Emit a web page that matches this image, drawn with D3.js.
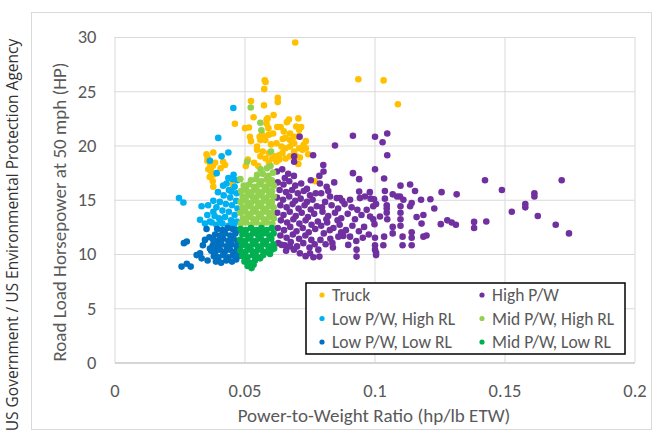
<!DOCTYPE html>
<html>
<head>
<meta charset="utf-8">
<script src="https://cdn.jsdelivr.net/npm/d3@7"></script>
<style>
  html, body { margin: 0; padding: 0; background: #fff; }
  svg { display: block; }
</style>
</head>
<body>
<div id="chart"></div>
<script>
// series as [power-to-weight ratio, road load hp]
const truck = [
  [0.0695, 29.5], [0.0938, 26.1], [0.1035, 26.0], [0.109, 23.8], [0.0771, 16.7], [0.0455, 16.3],
  [0.0354, 19.2], [0.0358, 18.9], [0.038, 19.35], [0.0357, 18.6], [0.0368, 18.3], [0.0378, 18.1],
  [0.0387, 18.4], [0.0418, 18.5], [0.0425, 18.2], [0.0361, 17.8], [0.0372, 17.6], [0.038, 17.3],
  [0.0378, 16.7], [0.038, 16.2], [0.0366, 17.1], [0.0408, 17.9],
  [0.0581, 25.85], [0.0576, 25.2], [0.0525, 24.1], [0.0575, 23.7], [0.0628, 24.4], [0.0628, 24.0],
  [0.0463, 22.0], [0.0502, 21.6], [0.0517, 21.66], [0.0585, 22.4], [0.0585, 22.0], [0.0592, 21.6],
  [0.0521, 20.8], [0.0525, 20.4], [0.0572, 20.9], [0.058, 20.5], [0.0578, 26.0], [0.0589, 22.5],
  [0.0626, 21.7], [0.0639, 21.7], [0.0663, 22.15], [0.0707, 22.5], [0.0699, 21.75], [0.071, 21.45],
  [0.0567, 21.0], [0.0594, 21.0], [0.0623, 20.2], [0.0642, 19.9], [0.0658, 19.75], [0.0675, 19.9],
  [0.0691, 20.2], [0.071, 19.75], [0.0727, 20.05], [0.0736, 19.75], [0.0548, 19.6], [0.057, 19.45],
  [0.0594, 19.3], [0.0618, 19.0], [0.0634, 18.7], [0.0623, 18.5], [0.0691, 19.45], [0.0699, 19.0],
  [0.0707, 18.3], [0.0537, 18.4], [0.0553, 18.1], [0.0561, 19.0], [0.0581, 18.8], [0.0594, 18.4],
  [0.0607, 18.8], [0.0513, 18.7], [0.0505, 18.1], [0.0671, 22.4], [0.0675, 21.1], [0.0658, 20.7],
  [0.061, 21.1], [0.0561, 20.5], [0.0548, 19.9], [0.0558, 20.8], [0.0691, 20.8], [0.0675, 20.5],
  [0.0718, 21.7], [0.071, 20.9], [0.0736, 20.4], [0.0723, 19.6], [0.0633, 19.1], [0.0646, 19.3],
  [0.0675, 19.0], [0.0658, 18.8], [0.0456, 16.7], [0.0593, 16.6], [0.0535, 22.6], [0.0612, 22.8],
  [0.0651, 21.3], [0.0684, 20.2], [0.0647, 20.6], [0.0602, 20.1], [0.0713, 18.9], [0.0745, 19.2]
]

const highPW = [
  [0.1002, 20.8], [0.1031, 20.3], [0.1049, 21.1], [0.1049, 19.1], [0.1002, 17.8], [0.1037, 16.96],
  [0.110, 16.3], [0.1137, 16.4], [0.1156, 15.8], [0.1258, 15.7], [0.1316, 15.5], [0.1425, 16.8],
  [0.149, 15.9], [0.1615, 15.6], [0.1615, 15.3], [0.172, 16.8], [0.158, 14.6], [0.158, 14.3],
  [0.1528, 13.9], [0.1628, 13.5], [0.1697, 12.7], [0.1748, 11.9], [0.143, 13.0], [0.1383, 12.96],
  [0.1383, 12.4], [0.1313, 12.7], [0.1297, 12.9], [0.128, 13.1], [0.1255, 12.75], [0.123, 14.2],
  [0.1215, 15.05], [0.1179, 15.0], [0.1188, 13.6], [0.1181, 12.8], [0.1162, 13.4], [0.1188, 11.6],
  [0.120, 11.7], [0.1143, 14.7], [0.1137, 14.4], [0.1143, 12.0], [0.1143, 11.5], [0.1143, 10.8],
  [0.1108, 10.8], [0.1108, 11.6], [0.110, 14.4], [0.110, 13.8], [0.110, 13.2], [0.110, 12.6],
  [0.1098, 15.3], [0.107, 15.5], [0.107, 12.5], [0.107, 11.9], [0.1037, 11.6], [0.1034, 10.8],
  [0.1002, 11.5], [0.1002, 10.8], [0.1006, 10.1], [0.1006, 9.9], [0.104, 15.8], [0.104, 15.1],
  [0.1047, 14.5], [0.1047, 13.8], [0.1049, 13.2], [0.1021, 13.45], [0.0995, 14.4], [0.0985, 15.1],
  [0.0995, 13.2], [0.100, 12.75], [0.1087, 15.3], [0.1111, 15.0], [0.1006, 14.6], [0.1047, 14.2],
  // middle band
  [0.0803, 18.2], [0.0804, 17.6], [0.0764, 19.1], [0.0712, 20.8], [0.0691, 19.0], [0.0691, 18.5],
  [0.0755, 16.8], [0.0848, 20.0], [0.0917, 20.9], [0.0917, 17.45], [0.0941, 16.9], [0.079, 16.5],
  [0.0816, 16.2], [0.0829, 15.3], [0.0855, 15.15], [0.0867, 15.15], [0.0906, 15.0], [0.0944, 15.15],
  [0.0963, 15.3], [0.0998, 15.05], [0.0941, 15.75], [0.0982, 15.7], [0.0795, 15.6], [0.081, 14.8],
  [0.0835, 14.5], [0.086, 14.2], [0.0885, 14.6], [0.0912, 14.3], [0.0934, 14.07], [0.097, 14.07],
  [0.0983, 13.45], [0.08, 13.9], [0.0822, 13.5], [0.0848, 13.8], [0.0872, 13.3], [0.0897, 13.7],
  [0.0925, 13.2], [0.095, 13.6], [0.0795, 12.6], [0.0818, 12.9], [0.0842, 12.4], [0.0866, 12.7],
  [0.089, 12.2], [0.0915, 12.6], [0.094, 12.1], [0.096, 12.5], [0.0805, 11.9], [0.083, 11.4],
  [0.0861, 11.6], [0.088, 11.67], [0.0906, 11.6], [0.093, 11.2], [0.0955, 11.5], [0.0978, 11.8],
  [0.0784, 10.4], [0.0788, 9.76], [0.0812, 10.9], [0.084, 10.6], [0.0899, 10.84], [0.0931, 10.4],
  [0.0931, 9.76], [0.1002, 10.4], [0.077, 10.9], [0.0765, 9.7],
  [0.0822, 15.8], [0.0845, 16.6], [0.0876, 14.9], [0.0858, 13.1], [0.0828, 12.2], [0.0872, 12.0],
  [0.0815, 13.2], [0.0838, 11.0], [0.0792, 11.3], [0.0798, 14.3], [0.0788, 17.2], [0.0774, 15.6],
  // dense block next to the mid group
  [0.0625, 17.6], [0.0645, 17.8], [0.0668, 17.4], [0.069, 17.2], [0.0655, 17.0],
  [0.0628, 16.6], [0.065, 16.4], [0.0672, 16.7], [0.0695, 16.3], [0.0718, 16.5], [0.074, 16.0],
  [0.0635, 15.9], [0.066, 15.7], [0.0683, 15.9], [0.0705, 15.6], [0.0728, 15.8], [0.0752, 15.4],
  [0.0625, 15.2], [0.0648, 15.0], [0.0672, 15.3], [0.0695, 14.9], [0.0716, 15.1], [0.074, 14.8], [0.0762, 15.0],
  [0.0638, 14.5], [0.0662, 14.3], [0.0685, 14.6], [0.0708, 14.2], [0.0731, 14.5], [0.0755, 14.1], [0.0778, 14.4],
  [0.0626, 13.8], [0.065, 13.6], [0.0674, 13.9], [0.0697, 13.5], [0.072, 13.8], [0.0744, 13.4], [0.0768, 13.7],
  [0.064, 13.1], [0.0664, 12.9], [0.0688, 13.2], [0.0711, 12.8], [0.0735, 13.1], [0.0758, 12.7], [0.0782, 13.0],
  [0.0628, 12.4], [0.0652, 12.2], [0.0676, 12.5], [0.07, 12.1], [0.0724, 12.4], [0.0747, 12.0], [0.0772, 12.3],
  [0.0638, 11.7], [0.0662, 11.5], [0.0686, 11.8], [0.071, 11.4], [0.0734, 11.7], [0.0757, 11.3],
  [0.063, 11.0], [0.0655, 10.8], [0.0678, 11.1], [0.0702, 10.7], [0.0726, 11.0], [0.075, 10.6],
  [0.0643, 10.84], [0.0675, 10.7], [0.066, 10.3], [0.0713, 10.07], [0.0752, 10.07], [0.069, 10.4], [0.0735, 9.8]
]

const lowPWHighRL = [
  [0.0457, 23.45], [0.0399, 20.7], [0.0438, 19.35], [0.0412, 19.0], [0.0367, 18.6], [0.0393, 17.45],
  [0.0438, 17.0], [0.0455, 16.9], [0.0431, 16.5], [0.045, 15.75], [0.0248, 15.15], [0.0265, 14.75],
  [0.0335, 14.4], [0.036, 14.5], [0.038, 13.9], [0.0329, 13.15], [0.0348, 12.8], [0.0367, 13.0],
  [0.0406, 13.15], [0.0462, 16.2], [0.047, 15.6], [0.044, 15.9], [0.042, 15.4], [0.0445, 15.2],
  [0.0468, 14.9], [0.0405, 14.8], [0.0428, 14.6], [0.0452, 14.5], [0.0473, 14.2], [0.0392, 14.3],
  [0.0415, 14.0], [0.044, 13.9], [0.0462, 13.6], [0.0385, 13.5], [0.0402, 13.3], [0.0425, 13.4],
  [0.0448, 13.1], [0.047, 13.0], [0.0392, 12.7], [0.0415, 12.8], [0.0438, 12.6], [0.046, 12.7],
  [0.0374, 12.9], [0.0398, 15.7], [0.0418, 16.3], [0.0458, 17.3], [0.0472, 16.8], [0.038, 14.9],
  [0.0357, 13.6]
]

const midPWHighRL = [
  [0.0524, 23.5], [0.0561, 22.1], [0.0565, 21.4], [0.0602, 19.45], [0.051, 18.5], [0.0484, 16.9], [0.0586, 17.9],
  [0.0486, 12.8], [0.0506, 12.9], [0.0526, 12.7], [0.0546, 12.9], [0.0566, 12.7], [0.0586, 12.9], [0.0607, 12.8],
  [0.0494, 13.3], [0.0514, 13.4], [0.0534, 13.2], [0.0554, 13.4], [0.0574, 13.2], [0.0595, 13.4], [0.0613, 13.3],
  [0.0484, 13.8], [0.0504, 13.9], [0.0524, 13.7], [0.0544, 13.9], [0.0564, 13.7], [0.0584, 13.9], [0.0604, 13.8],
  [0.0492, 14.3], [0.0512, 14.4], [0.0532, 14.2], [0.0552, 14.4], [0.0572, 14.2], [0.0593, 14.4], [0.0612, 14.3],
  [0.0485, 14.8], [0.0505, 14.9], [0.0525, 14.7], [0.0545, 14.9], [0.0565, 14.7], [0.0585, 14.9], [0.0605, 14.8],
  [0.0493, 15.3], [0.0513, 15.4], [0.0533, 15.2], [0.0553, 15.4], [0.0573, 15.2], [0.0594, 15.4], [0.0612, 15.3],
  [0.0487, 15.8], [0.0507, 15.9], [0.0527, 15.7], [0.0547, 15.9], [0.0567, 15.7], [0.0587, 15.9], [0.0606, 15.8],
  [0.0497, 16.3], [0.0517, 16.4], [0.0537, 16.2], [0.0557, 16.4], [0.0577, 16.2], [0.0597, 16.4], [0.0613, 16.3],
  [0.0525, 16.8], [0.0545, 16.9], [0.0565, 16.7], [0.0585, 16.9], [0.0605, 16.8],
  [0.0548, 17.3], [0.057, 17.4], [0.0592, 17.2], [0.061, 17.5], [0.0562, 17.8], [0.06, 18.1]
]

const lowPWLowRL = [
  [0.0258, 8.84], [0.0278, 9.1], [0.0293, 8.84], [0.0267, 11.0], [0.0278, 11.15], [0.0316, 9.9],
  [0.0329, 10.07], [0.0335, 9.6], [0.0348, 11.3], [0.0365, 11.55], [0.0367, 10.5], [0.0354, 12.3],
  [0.034, 10.8], [0.0358, 9.4],
  [0.0395, 12.3], [0.0415, 12.2], [0.0435, 12.4], [0.0455, 12.3], [0.0472, 12.2],
  [0.0387, 11.8], [0.0405, 11.7], [0.0425, 11.9], [0.0445, 11.7], [0.0465, 11.9],
  [0.038, 11.3], [0.0398, 11.2], [0.0418, 11.4], [0.0438, 11.2], [0.0458, 11.4], [0.0474, 11.2],
  [0.0378, 10.8], [0.0392, 10.7], [0.0411, 10.9], [0.0431, 10.7], [0.0451, 10.9], [0.047, 10.7],
  [0.0372, 10.3], [0.0388, 10.2], [0.0405, 10.4], [0.0424, 10.2], [0.0444, 10.4], [0.0464, 10.2],
  [0.0382, 9.8], [0.04, 9.7], [0.0418, 9.9], [0.0437, 9.7], [0.0456, 9.9], [0.0474, 9.8],
  [0.039, 9.3], [0.041, 9.2], [0.043, 9.4], [0.0452, 9.3], [0.0468, 9.5]
]

const midPWLowRL = [
  [0.0485, 12.3], [0.0505, 12.2], [0.0525, 12.4], [0.0545, 12.2], [0.0565, 12.4], [0.0585, 12.2], [0.0605, 12.4],
  [0.0492, 11.8], [0.0513, 11.7], [0.0533, 11.9], [0.0553, 11.7], [0.0573, 11.9], [0.0595, 11.7], [0.0612, 11.9],
  [0.0483, 11.3], [0.0503, 11.2], [0.0523, 11.4], [0.0543, 11.2], [0.0563, 11.4], [0.0583, 11.2], [0.0603, 11.4],
  [0.049, 10.8], [0.0511, 10.7], [0.0531, 10.9], [0.0551, 10.7], [0.0571, 10.9], [0.0592, 10.7], [0.0611, 10.9],
  [0.0484, 10.3], [0.0504, 10.2], [0.0524, 10.4], [0.0544, 10.2], [0.0564, 10.4], [0.0584, 10.2], [0.0604, 10.4],
  [0.0492, 9.8], [0.0512, 9.7], [0.0532, 9.9], [0.0552, 9.7], [0.0572, 9.9],
  [0.05, 9.3], [0.052, 9.2], [0.054, 9.4], [0.056, 9.6], [0.0527, 8.7], [0.0512, 8.9], [0.0535, 9.0],
  [0.0598, 10.0], [0.0556, 12.0], [0.0614, 10.5]
]

const seriesNames = ['Truck', 'High P/W', 'Low P/W, High RL', 'Mid P/W, High RL', 'Low P/W, Low RL', 'Mid P/W, Low RL']
const seriesColors = ['#FFC000', '#7030A0', '#00B0F0', '#92D050', '#0070C0', '#00B050']
const seriesData = [truck, highPW, lowPWHighRL, midPWHighRL, lowPWLowRL, midPWLowRL]

const xTicks = [0, 0.05, 0.1, 0.15, 0.2]
const yTicks = [0, 5, 10, 15, 20, 25, 30]

const width = 659
const height = 435
const plot = { left: 114.5, right: 634.5, top: 37, bottom: 362.5 }
const font = 'Calibri, Carlito, Lato, sans-serif'

const svg = d3.select('#chart').append('svg')
  .attr('width', width)
  .attr('height', height)

// outer frame
svg.append('rect')
  .attr('x', 31.5).attr('y', 12.5)
  .attr('width', 620).attr('height', 417)
  .attr('fill', '#fff')
  .attr('stroke', '#d9d9d9')

const x = d3.scaleLinear().domain([0, 0.2]).range([plot.left, plot.right])
const y = d3.scaleLinear().domain([0, 30]).range([plot.bottom, plot.top])

// gridlines
svg.append('g')
  .attr('transform', `translate(0, ${plot.bottom})`)
  .call(d3.axisBottom(x).tickValues(xTicks).tickSize(-(plot.bottom - plot.top)).tickFormat(''))
  .call(g => g.select('.domain').remove())
  .selectAll('line').attr('stroke', '#d9d9d9')

svg.append('g')
  .attr('transform', `translate(${plot.left}, 0)`)
  .call(d3.axisLeft(y).tickValues(yTicks).tickSize(-(plot.right - plot.left)).tickFormat(''))
  .call(g => g.select('.domain').remove())
  .selectAll('line').attr('stroke', '#d9d9d9')

// tick labels
const xAxis = svg.append('g')
  .attr('transform', `translate(0, ${plot.bottom})`)
  .call(d3.axisBottom(x).tickValues(xTicks).tickSize(0).tickPadding(21).tickFormat(d => String(d)))
xAxis.select('.domain').attr('stroke', '#bfbfbf')
xAxis.selectAll('text').attr('font-family', font).attr('font-size', 18.5).attr('fill', '#595959')

const yAxis = svg.append('g')
  .attr('transform', `translate(${plot.left}, 0)`)
  .call(d3.axisLeft(y).tickValues(yTicks).tickSize(0).tickPadding(18))
yAxis.select('.domain').remove()
yAxis.selectAll('text').attr('font-family', font).attr('font-size', 18.5).attr('fill', '#595959')

// points
seriesData.forEach((pts, i) => {
  svg.append('g')
    .selectAll('circle')
    .data(pts)
    .enter()
    .append('circle')
    .attr('cx', d => x(d[0]))
    .attr('cy', d => y(d[1]))
    .attr('r', 3.3)
    .attr('fill', seriesColors[i])
})

// legend
const legend = svg.append('g')
legend.append('rect')
  .attr('x', 306).attr('y', 283)
  .attr('width', 319).attr('height', 71)
  .attr('fill', '#fff')
  .attr('stroke', '#000')
  .attr('stroke-width', 1.5)

seriesNames.forEach((name, i) => {
  const cx = i % 2 === 0 ? 322 : 482
  const cy = 295 + Math.floor(i / 2) * 23.5
  legend.append('circle')
    .attr('cx', cx).attr('cy', cy).attr('r', 2.6)
    .attr('fill', seriesColors[i])
  legend.append('text')
    .attr('x', cx + 10).attr('y', cy)
    .attr('dy', '0.35em')
    .attr('font-family', font).attr('font-size', 17.5)
    .attr('fill', '#595959')
    .text(name)
})

// axis titles
svg.append('text')
  .attr('text-anchor', 'middle')
  .attr('x', (plot.left + plot.right) / 2 - 0.5)
  .attr('y', 415)
  .attr('dy', '0.35em')
  .attr('font-family', font).attr('font-size', 19)
  .attr('fill', '#595959')
  .text('Power-to-Weight Ratio (hp/lb ETW)')

svg.append('text')
  .attr('text-anchor', 'middle')
  .attr('transform', 'translate(59, 212) rotate(-90)')
  .attr('dy', '0.35em')
  .attr('font-family', font).attr('font-size', 19)
  .attr('fill', '#595959')
  .text('Road Load Horsepower at 50 mph (HP)')

// source credit along the left edge
svg.append('text')
  .attr('text-anchor', 'middle')
  .attr('transform', 'translate(13, 235) rotate(-90)')
  .attr('dy', '0.35em')
  .attr('font-family', '"Open Sans", sans-serif').attr('font-size', 15.5)
  .attr('fill', '#333')
  .text('US Government / US Environmental Protection Agency')
</script>
</body>
</html>
